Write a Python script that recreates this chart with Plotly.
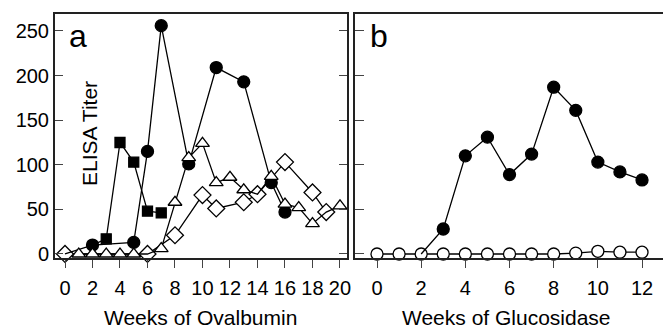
import plotly.graph_objects as go

# Panel a: weeks of ovalbumin
circ_a_x = [0, 2, 5, 6, 7, 9, 11, 13, 15, 16]
circ_a_y = [0, 10, 13, 115, 256, 101, 209, 193, 80, 47]
circ_a_show = [0, 1, 1, 1, 1, 1, 1, 1, 1, 1]

sq_a_x = [2, 3, 4, 5, 6, 7]
sq_a_y = [10, 17, 125, 103, 48, 46]
sq_a_show = [0, 1, 1, 1, 1, 1]

tri_a_x = [1, 2, 3, 4, 5, 6, 7, 8, 9, 10, 11, 12, 13, 14, 15, 16, 17, 18, 19, 20]
tri_a_y = [0, 0, 0, 0, 0, 0, 6, 58, 108, 124, 80, 86, 72, 67, 87, 56, 52, 34, 47, 54]
tri_a_show = [1, 1, 1, 1, 1, 0, 1, 1, 1, 1, 1, 1, 1, 0, 1, 1, 1, 1, 0, 1]

dia_a_x = [0, 6, 8, 10, 11, 13, 14, 16, 18, 19]
dia_a_y = [0, 0, 21, 66, 51, 58, 67, 103, 69, 47]

# Panel b: weeks of glucosidase
circ_b_x = [2, 3, 4, 5, 6, 7, 8, 9, 10, 11, 12]
circ_b_y = [0, 28, 110, 131, 89, 112, 187, 161, 103, 92, 83]
circ_b_show = [0, 1, 1, 1, 1, 1, 1, 1, 1, 1, 1]

open_b_x = [0, 1, 2, 3, 4, 5, 6, 7, 8, 9, 10, 11, 12]
open_b_y = [0, 0, 0, 0, 0, 0, 0, 0, 0, 1, 3, 2, 2]

y_ticks = [0, 50, 100, 150, 200, 250]
xa_ticks = list(range(0, 21, 2))
xb_ticks = list(range(0, 13, 2))

FONT = "Liberation Sans, Arial, sans-serif"
LW = 1.3

fig = go.Figure()

def add(x, y, symbol, size, fill, xa, ya, show=None):
    sizes = size if show is None else [size * s for s in show]
    fig.add_trace(go.Scatter(
        x=x, y=y, mode="lines+markers", xaxis=xa, yaxis=ya,
        line=dict(color="black", width=LW),
        marker=dict(symbol=symbol, size=sizes, color=fill, opacity=1,
                    line=dict(color="black", width=1.3)),
        opacity=1, showlegend=False, cliponaxis=False))

add(dia_a_x, dia_a_y, "diamond", 13, "white", "x", "y")
add(circ_a_x, circ_a_y, "circle", 12, "black", "x", "y", circ_a_show)
add(sq_a_x, sq_a_y, "square", 10, "black", "x", "y", sq_a_show)
add(tri_a_x, tri_a_y, "triangle-up", 12, "white", "x", "y", tri_a_show)

add(open_b_x, open_b_y, "circle", 12, "white", "x2", "y2")
add(circ_b_x, circ_b_y, "circle", 12, "black", "x2", "y2", circ_b_show)

W, H = 663, 331
def px(v):
    return v / W
def py(v):
    return (H - v) / H

yr = [-4.5, 269.6]
tickfont = dict(family=FONT, size=20, color="black")

fig.update_layout(
    width=W, height=H, margin=dict(l=0, r=0, t=0, b=0),
    paper_bgcolor="white", plot_bgcolor="white",
    xaxis=dict(domain=[px(55), px(347)], range=[-0.727, 20.51],
               tickvals=xa_ticks, ticks="outside", ticklen=8, tickwidth=1.3,
               showline=True, linewidth=2, linecolor="#222", mirror=True,
               showgrid=False, zeroline=False, tickfont=tickfont,
               ticklabelstandoff=3, anchor="y", automargin=False),
    yaxis=dict(domain=[py(258), py(13.5)], range=yr,
               tickvals=y_ticks, ticks="inside", ticklen=8, tickwidth=1.3,
               showline=True, linewidth=2, linecolor="#222", mirror="ticks",
               showgrid=False, zeroline=False, tickfont=tickfont,
               anchor="x", automargin=False),
    xaxis2=dict(domain=[px(355), 1.0], range=[-0.996, 12.95],
                tickvals=xb_ticks, ticks="outside", ticklen=8, tickwidth=1.3,
                showline=True, linewidth=2, linecolor="#222", mirror=True,
                showgrid=False, zeroline=False, tickfont=tickfont,
                ticklabelstandoff=3, anchor="y2", automargin=False),
    yaxis2=dict(domain=[py(258), py(13.5)], range=yr,
                tickvals=y_ticks, ticks="inside", ticklen=9, tickwidth=1.3,
                showline=True, linewidth=2, linecolor="#222", mirror=False,
                showticklabels=False, showgrid=False, zeroline=False,
                anchor="x2", automargin=False),
)

ann_font = dict(family=FONT, color="black")
fig.add_annotation(x=px(78), y=py(36), xref="paper", yref="paper",
                   text="a", showarrow=False, font=dict(size=32, **ann_font),
                   xanchor="center", yanchor="middle")
fig.add_annotation(x=px(379), y=py(36), xref="paper", yref="paper",
                   text="b", showarrow=False, font=dict(size=32, **ann_font),
                   xanchor="center", yanchor="middle")
fig.add_annotation(x=px(89), y=py(134), xref="paper", yref="paper",
                   text="ELISA Titer", showarrow=False, textangle=-90,
                   font=dict(size=21, **ann_font),
                   xanchor="center", yanchor="middle")
fig.add_annotation(x=px(201), y=0, xref="paper", yref="paper",
                   text="Weeks of Ovalbumin", showarrow=False,
                   font=dict(size=21, **ann_font),
                   xanchor="center", yanchor="bottom")
fig.add_annotation(x=px(507), y=0, xref="paper", yref="paper",
                   text="Weeks of Glucosidase", showarrow=False,
                   font=dict(size=21, **ann_font),
                   xanchor="center", yanchor="bottom")

fig.write_html("out.html")
